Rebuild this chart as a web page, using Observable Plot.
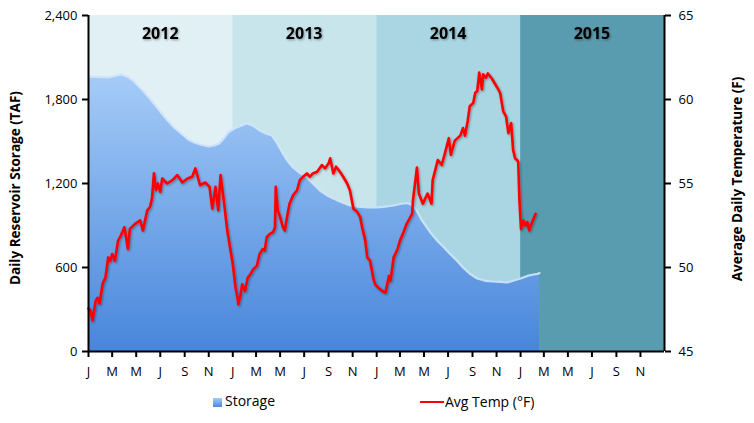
<!DOCTYPE html>
<html><head><meta charset="utf-8">
<script src="https://cdn.jsdelivr.net/npm/d3@7"></script>
<script src="https://cdn.jsdelivr.net/npm/@observablehq/plot@0.6"></script>
<style>
body{margin:0;background:#fff;font-family:"Open Sans",sans-serif;}
#wrap{position:relative;width:754px;height:423px;overflow:hidden;}
#chart svg{display:block;}
.lg{position:absolute;font-size:14px;color:#000;white-space:nowrap;line-height:16px;}
</style></head><body>
<div id="wrap"><div id="chart"></div>
<div class="lg" style="left:213px;top:393px;"><span style="display:inline-block;width:9px;height:9px;background:linear-gradient(#a6cbf7,#4a88dc);vertical-align:-1px;margin-right:3px;"></span>Storage</div>
<div class="lg" style="left:420px;top:394px;"><span style="display:inline-block;width:24px;height:2.5px;background:#ff0000;vertical-align:4px;margin-right:1px;"></span>Avg Temp (°F)</div>
</div>
<script>
const yearLabels = ["2012", "2013", "2014", "2015"];
const yearColors = ["#e1f0f4", "#c8e5ec", "#a9d6e2", "#5a9caf"];
const monthLetters = ["J","F","M","A","M","J","J","A","S","O","N","D"];
const leftTicks = [0, 600, 1200, 1800, 2400];
const rightTicks = [45, 50, 55, 60, 65];

const storageDates = [
 "2012-01-01","2012-01-06","2012-02-01","2012-02-20","2012-03-08","2012-03-25","2012-04-10","2012-04-23",
 "2012-05-05","2012-05-18","2012-06-05","2012-06-23","2012-07-05","2012-07-20","2012-08-05","2012-08-23",
 "2012-09-10","2012-09-25","2012-10-15","2012-11-01","2012-11-15","2012-11-28","2012-12-10","2012-12-20",
 "2013-01-05","2013-01-23","2013-02-05","2013-02-20","2013-03-10","2013-03-25","2013-04-10","2013-04-23",
 "2013-05-08","2013-05-20","2013-06-03","2013-06-20","2013-07-08","2013-07-23","2013-08-10","2013-08-28",
 "2013-09-13","2013-10-01","2013-10-25","2013-11-15","2013-12-08","2014-01-01","2014-01-23","2014-02-13",
 "2014-03-08","2014-03-20","2014-04-03","2014-04-15","2014-04-25","2014-05-08","2014-05-20","2014-06-03",
 "2014-06-20","2014-07-05","2014-07-23","2014-08-08","2014-08-25","2014-09-13","2014-10-03","2014-10-23",
 "2014-11-10","2014-11-28","2014-12-13","2015-01-01","2015-01-18","2015-02-03","2015-02-13","2015-02-18"
];
const storageTAF = [
 1960,1964,1960,1957,1968,1979,1960,1936,
 1900,1864,1805,1743,1700,1650,1600,1557,
 1515,1493,1475,1464,1472,1486,1525,1564,
 1593,1615,1629,1615,1579,1558,1543,1490,
 1414,1360,1314,1275,1243,1200,1150,1115,
 1093,1070,1043,1035,1029,1030,1035,1043,
 1057,1060,1043,993,940,886,840,793,
 745,700,650,600,555,521,505,500,
 497,493,505,521,540,550,555,560
];

const tempDates = [
 // 2012
 "2012-01-01","2012-01-06","2012-01-11","2012-01-19","2012-01-24","2012-01-29","2012-02-06","2012-02-13",
 "2012-02-20","2012-02-25","2012-03-01","2012-03-08","2012-03-16","2012-03-23","2012-04-01","2012-04-10",
 "2012-04-15","2012-04-28","2012-05-11","2012-05-18","2012-05-29","2012-06-05","2012-06-10","2012-06-15",
 "2012-06-20","2012-06-25","2012-07-01","2012-07-06","2012-07-18","2012-08-01","2012-08-13","2012-08-26",
 "2012-09-08","2012-09-20","2012-09-28","2012-10-10","2012-10-23","2012-11-03","2012-11-10","2012-11-18",
 "2012-11-25","2012-12-01","2012-12-08","2012-12-18",
 // 2013
 "2013-01-01","2013-01-08","2013-01-13","2013-01-15","2013-01-20","2013-01-25","2013-02-01","2013-02-08",
 "2013-02-15","2013-02-22","2013-03-03","2013-03-10","2013-03-18","2013-03-23","2013-03-28","2013-04-05",
 "2013-04-13","2013-04-18","2013-04-20","2013-04-25","2013-05-01","2013-05-08","2013-05-13","2013-05-20",
 "2013-05-25","2013-06-03","2013-06-13","2013-06-20","2013-06-28","2013-07-08","2013-07-15","2013-07-23",
 "2013-08-03","2013-08-15","2013-08-23","2013-09-01","2013-09-05","2013-09-13","2013-09-20","2013-10-01",
 "2013-10-08","2013-10-18","2013-10-25","2013-11-03","2013-11-13","2013-11-20","2013-11-25","2013-12-03",
 "2013-12-08","2013-12-15","2013-12-23","2013-12-28",
 // 2014
 "2014-01-05","2014-01-15","2014-01-23","2014-02-01","2014-02-05","2014-02-13","2014-02-23","2014-03-01",
 "2014-03-10","2014-03-18","2014-03-25","2014-04-01","2014-04-03","2014-04-13","2014-04-18","2014-04-28",
 "2014-05-10","2014-05-20","2014-05-23","2014-06-05","2014-06-15","2014-06-23","2014-07-03","2014-07-08",
 "2014-07-18","2014-08-01","2014-08-08","2014-08-13","2014-08-20","2014-08-25","2014-09-03","2014-09-08",
 "2014-09-13","2014-09-18","2014-09-25","2014-09-28","2014-10-05","2014-10-10","2014-10-20","2014-11-03",
 "2014-11-10","2014-11-18","2014-11-25","2014-12-01","2014-12-08","2014-12-13","2014-12-18","2014-12-23",
 "2014-12-26","2014-12-29",
 // 2015
 "2015-01-02","2015-01-08","2015-01-13","2015-01-18","2015-01-23","2015-01-25","2015-02-01","2015-02-08"
];
const tempF = [
 // 2012
 47.56,47.44,46.85,48.0,48.2,47.86,49.05,49.4,
 50.6,50.4,50.8,50.4,51.6,51.9,52.4,51.1,
 52.3,52.6,52.8,52.2,53.4,53.6,54.1,55.6,
 54.6,55.0,54.5,55.3,55.0,55.2,55.5,55.06,
 55.3,55.4,55.9,54.9,55.06,54.8,53.5,54.8,
 53.4,55.5,54.2,52.2,
 // 2013
 50.2,48.8,48.2,47.8,48.3,49.0,48.6,49.4,
 49.6,49.9,50.1,50.8,51.1,51.0,51.8,52.0,
 52.1,52.4,54.8,53.4,53.0,52.4,52.2,53.2,
 53.8,54.3,54.6,55.2,55.4,55.6,55.4,55.6,
 55.7,56.1,55.9,56.2,56.5,55.6,56.0,55.65,
 55.4,55.0,54.6,53.5,53.3,53.0,52.4,51.6,
 50.6,50.4,49.4,49.0,
 // 2014
 48.8,48.6,48.5,49.5,49.2,50.6,51.1,51.6,
 52.1,52.6,52.9,53.2,54.0,55.95,54.4,53.8,
 54.4,53.8,55.2,56.4,56.1,56.8,57.7,56.7,
 57.55,57.85,58.3,57.85,58.75,59.6,59.8,60.4,
 60.5,61.6,60.6,61.5,61.3,61.55,61.25,60.7,
 60.4,59.3,59.0,58.0,58.6,57.0,56.5,56.4,
 56.3,54.0,
 // 2015
 52.3,52.8,52.5,52.7,52.2,52.4,52.8,53.2
];

const parse = d3.utcParse("%Y-%m-%d");
const storage = storageDates.map((d, i) => ({date: parse(d), value: storageTAF[i]}));
const temp = tempDates.map((d, i) => ({date: parse(d), value: tempF[i]}));
const years = yearLabels.map((y, i) => ({
  label: y, color: yearColors[i],
  start: new Date(Date.UTC(+y, 0, 1)), end: new Date(Date.UTC(+y + 1, 0, 1)),
  mid: new Date(Date.UTC(+y, 6, 1))
}));
const toLeft = t => (t - rightTicks[0]) * 2400 / (rightTicks[rightTicks.length - 1] - rightTicks[0]);
const x0 = years[0].start, x1 = years[years.length - 1].end;

const defs = () => {
  const g = d3.create("svg:defs");
  const lg = g.append("linearGradient").attr("id", "sg")
    .attr("gradientUnits", "userSpaceOnUse").attr("x1", 0).attr("y1", 70).attr("x2", 0).attr("y2", 351);
  lg.append("stop").attr("offset", "0%").attr("stop-color", "#a7cdf8");
  lg.append("stop").attr("offset", "100%").attr("stop-color", "#4886db");
  const f = g.append("filter").attr("id", "sh").attr("x", "-5%").attr("y", "-5%").attr("width", "110%").attr("height", "110%");
  f.append("feDropShadow").attr("dx", 1).attr("dy", 1.2).attr("stdDeviation", 0.8).attr("flood-color", "#000").attr("flood-opacity", 0.35);
  return g.node();
};

const chart = Plot.plot({
  width: 754, height: 385,
  marginLeft: 88, marginRight: 90, marginTop: 15, marginBottom: 34,
  style: {fontFamily: "'Open Sans', sans-serif", fontSize: "13px", color: "#000", background: "transparent", overflow: "visible"},
  x: {type: "utc", domain: [x0, x1]},
  y: {domain: [0, 2400]},
  marks: [
    defs,
    Plot.rect(years, {x1: "start", x2: "end", y1: 0, y2: 2400, fill: "color"}),
    Plot.areaY(storage, {x: "date", y: "value", fill: "url(#sg)"}),
    Plot.lineY(storage, {x: "date", y: "value", stroke: "#d2e6fb", strokeWidth: 2.2, strokeOpacity: 0.9}),
    Plot.lineY(temp, {x: "date", y: d => toLeft(d.value), stroke: "#ff0000", strokeWidth: 2.6, strokeLinejoin: "round"}),
    Plot.text(years, {x: "mid", y: 2270, text: "label", fontWeight: "bold", fontSize: 16, fill: "#000"}),
    Plot.axisY(leftTicks, {anchor: "left", tickFormat: d3.format(","), tickSize: 6, tickPadding: 5, strokeWidth: 2, label: null}),
    Plot.axisY(rightTicks.map(toLeft), {anchor: "right", tickFormat: d => String(rightTicks[0] + d * (rightTicks[4] - rightTicks[0]) / 2400), tickSize: 6, tickPadding: 8, strokeWidth: 2, label: null}),
    Plot.axisX(d3.utcMonth.every(2).range(x0, x1), {tickFormat: d => monthLetters[d.getUTCMonth()], tickSize: 6, tickPadding: 9, strokeWidth: 2, label: null}),
    Plot.ruleX([x0], {strokeWidth: 2, stroke: "#000"}),
    Plot.ruleX([x1], {strokeWidth: 2, stroke: "#000"}),
    Plot.ruleY([0], {strokeWidth: 2, stroke: "#000"})
  ]
});

const svg = d3.select(chart);
svg.selectAll('g[aria-label="line"][stroke="#ff0000"]').attr("filter", "url(#sh)");
svg.selectAll('g[aria-label="text"]').attr("filter", "url(#sh)");
svg.append("text").attr("transform", "translate(16,188) rotate(-90)")
  .attr("text-anchor", "middle").attr("dominant-baseline", "middle")
  .attr("font-weight", "bold").attr("font-size", 13.5).text("Daily Reservoir Storage (TAF)");
svg.append("text").attr("transform", "translate(738,179) rotate(-90)")
  .attr("text-anchor", "middle").attr("dominant-baseline", "middle")
  .attr("font-weight", "bold").attr("font-size", 13.5).text("Average Daily Temperature (F)");
document.getElementById("chart").appendChild(chart);
</script>
</body></html>
